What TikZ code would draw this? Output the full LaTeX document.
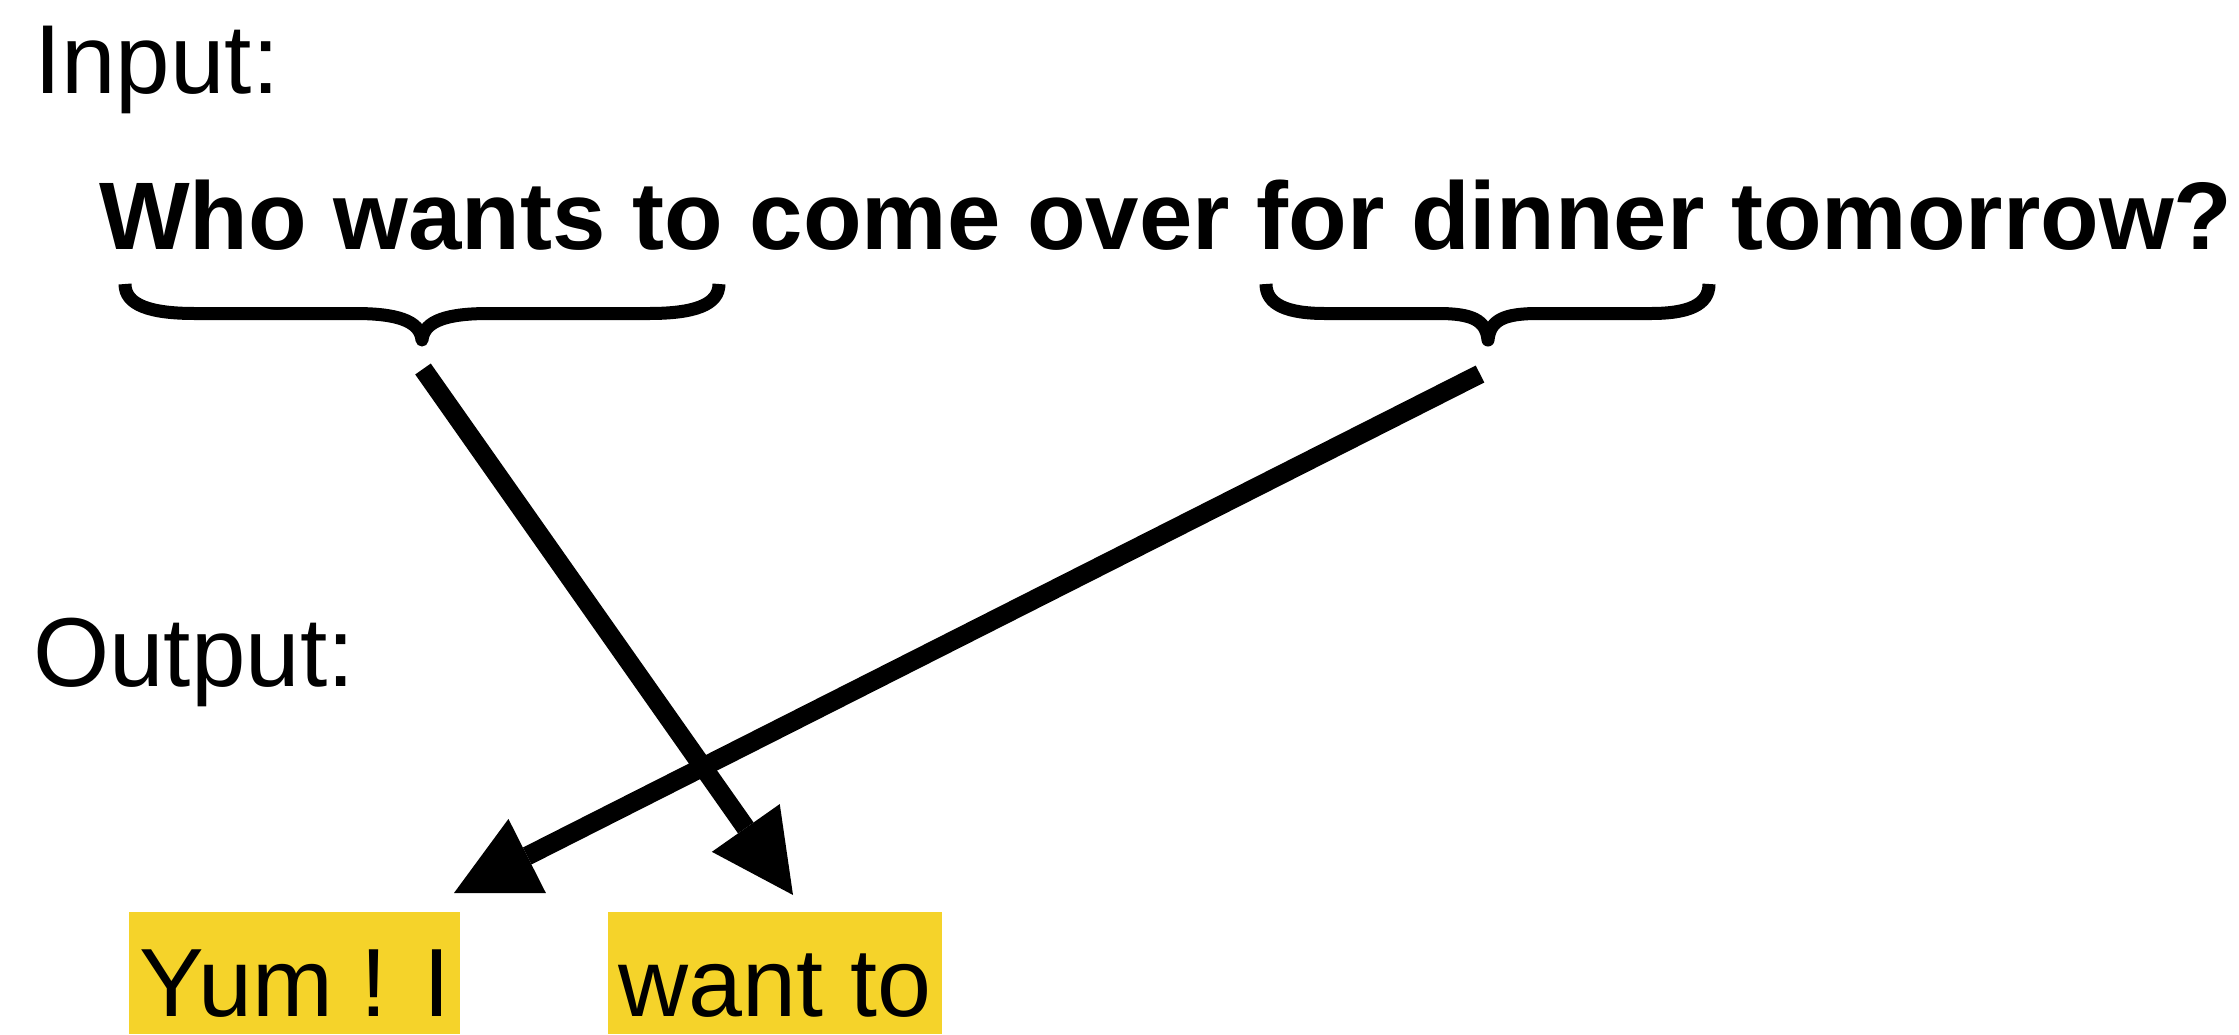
\documentclass[tikz,border=0pt]{standalone}
\usepackage{fontspec}
\setmainfont{Liberation Sans}
\usetikzlibrary{arrows.meta}
\definecolor{boxyellow}{RGB}{245,211,42}
\begin{document}
\begin{tikzpicture}[x=1pt,y=-1pt,
  lbl/.style={inner sep=0pt, anchor=base west, font=\fontsize{98}{110}\selectfont},
  sent/.style={inner sep=0pt, anchor=base west, font=\fontsize{96}{110}\selectfont\bfseries},
  hl/.style={fill=boxyellow, anchor=north west, inner xsep=10pt, inner ysep=0pt,
    text height=104pt, text depth=18pt, font=\fontsize{97}{110}\selectfont},
  bracestroke/.style={line width=13pt, line join=round, line cap=butt},
  conn/.style={line width=19pt, -{Triangle[length=82pt,width=83pt,line width=0pt]}}
]
\useasboundingbox (0,0) rectangle (2239,1034);
\node[lbl] (inp) at (34,93) {Input:};
\node[sent] (q) at (99,249) {Who wants to come over for dinner tomorrow?};
\node[lbl] (outp) at (33,686) {Output:};
\node[hl, minimum width=325pt] (b1) at (129,912) {Yum ! I};
\node[hl, minimum width=334pt] (b2) at (608,912) {want to};
% braces
\draw[bracestroke] (125,284) .. controls (125,305) and (150,313.5) .. (195,313.5)
  -- (355,313.5) .. controls (395,313.5) and (420,320) .. (422,340)
  .. controls (424,320) and (449,313.5) .. (489,313.5)
  -- (649,313.5) .. controls (694,313.5) and (719,305) .. (719,284);
\draw[bracestroke] (1266,284) .. controls (1266,305) and (1288,313.5) .. (1325,313.5)
  -- (1438,313.5) .. controls (1472,313.5) and (1486,320) .. (1488,340)
  .. controls (1490,320) and (1504,313.5) .. (1538,313.5)
  -- (1651,313.5) .. controls (1688,313.5) and (1709,305) .. (1709,284);
% arrows
\coordinate (s1) at (423,369);
\coordinate (t1) at (793,895);
\coordinate (s2) at (1480,374);
\coordinate (t2) at (454,893);
\draw[conn] (s1) -- (t1);
\draw[conn] (s2) -- (t2);
\end{tikzpicture}
\end{document}
